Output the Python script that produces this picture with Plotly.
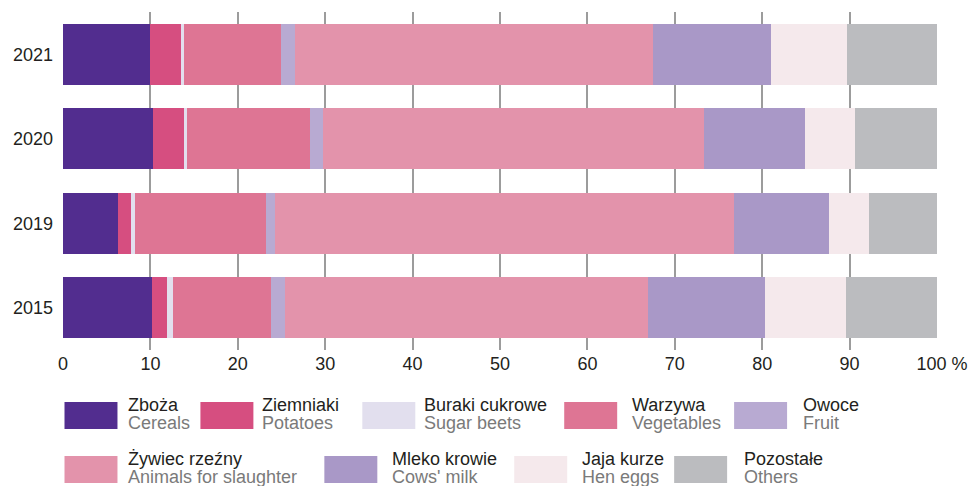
import plotly.graph_objects as go

# Years (top to bottom) and product groups
years = ["2021", "2020", "2019", "2015"]

groups_pl = ["Zboża", "Ziemniaki", "Buraki cukrowe", "Warzywa", "Owoce",
             "Żywiec rzeźny", "Mleko krowie", "Jaja kurze", "Pozostałe"]
groups_en = ["Cereals", "Potatoes", "Sugar beets", "Vegetables", "Fruit",
             "Animals for slaughter", "Cows' milk", "Hen eggs", "Others"]

# Share in % of each group, per year (same order as `years`)
cereals = [10.0, 10.25, 6.25, 10.15]
potatoes = [3.45, 3.65, 1.5, 1.8]
sugar_beets = [0.45, 0.25, 0.45, 0.6]
vegetables = [11.0, 14.15, 15.0, 11.2]
fruit = [1.6, 1.4, 1.0, 1.6]
animals = [40.95, 43.6, 52.6, 41.55]
milk = [13.5, 11.65, 10.8, 13.4]
eggs = [8.8, 5.7, 4.6, 9.25]
others = [10.25, 9.35, 7.8, 10.45]

series = [cereals, potatoes, sugar_beets, vegetables, fruit,
          animals, milk, eggs, others]

x_ticks = [0, 10, 20, 30, 40, 50, 60, 70, 80, 90, 100]
x_tick_text = ["0", "10", "20", "30", "40", "50", "60", "70", "80", "90",
               "\u00a0\u00a0100 %"]

colors = ["#522D8F", "#D64E80", "#E2DFEE", "#DE7594", "#B8AAD2",
          "#E393AB", "#A998C7", "#F5E9EC", "#BBBCBF"]

FONT = "Liberation Sans, Arial, sans-serif"

W, H = 969, 486
ML, MR, MT, MB = 62.5, 32, 12, 136
PW, PH = W - ML - MR, H - MT - MB

fig = go.Figure()
for name, vals, col in zip(groups_pl, series, colors):
    fig.add_trace(go.Bar(
        y=years, x=vals, name=name, orientation="h",
        marker=dict(color=col, line=dict(width=0)),
        showlegend=False,
    ))


def px_x(p):
    return (p - ML) / PW


def px_y(p):
    return (H - MB - p) / PH


# Hand-built legend: swatch left edge / text left edge / row, in pixels
legend_slots = [
    (64, 127, 0), (200, 261, 0), (362, 423, 0), (564, 631, 0), (734, 802, 0),
    (64, 127, 1), (324, 391, 1), (514, 581, 1), (674, 743, 1),
]
row_top = [402, 456]
swatch_w, swatch_h = 53, 27

shapes = []
annotations = []
for (sx, tx, row), pl, en, col in zip(legend_slots, groups_pl, groups_en, colors):
    top = row_top[row]
    shapes.append(dict(
        type="rect", xref="paper", yref="paper",
        x0=px_x(sx), x1=px_x(sx + swatch_w),
        y0=px_y(top + swatch_h), y1=px_y(top),
        fillcolor=col, line=dict(width=0), layer="above",
    ))
    annotations.append(dict(
        xref="paper", yref="paper", x=px_x(tx), y=px_y(top + 3),
        xanchor="left", yanchor="middle", text=pl, showarrow=False,
        borderpad=0,
        font=dict(family=FONT, size=18, color="#231F20"),
    ))
    annotations.append(dict(
        xref="paper", yref="paper", x=px_x(tx), y=px_y(top + 21),
        xanchor="left", yanchor="middle", text=en, showarrow=False,
        borderpad=0,
        font=dict(family=FONT, size=18, color="#7A7A7A"),
    ))

fig.update_layout(
    width=W, height=H,
    margin=dict(l=ML, r=MR, t=MT, b=MB, autoexpand=False),
    barmode="stack", bargap=0.28,
    plot_bgcolor="white", paper_bgcolor="white",
    font=dict(family=FONT, size=18, color="#231F20"),
    xaxis=dict(
        range=[0, 100], tickvals=x_ticks, ticktext=x_tick_text,
        showgrid=True, gridcolor="#9C9C9C", gridwidth=1.5,
        zeroline=False, showline=False, ticks="",
        ticklabelstandoff=1, automargin=False, fixedrange=True,
    ),
    yaxis=dict(
        type="category", categoryorder="array", categoryarray=years,
        autorange="reversed", showgrid=False, zeroline=False,
        showline=False, ticks="", ticklabelstandoff=9, automargin=False,
    ),
    shapes=shapes,
    annotations=annotations,
)

fig.write_html("out.html")
